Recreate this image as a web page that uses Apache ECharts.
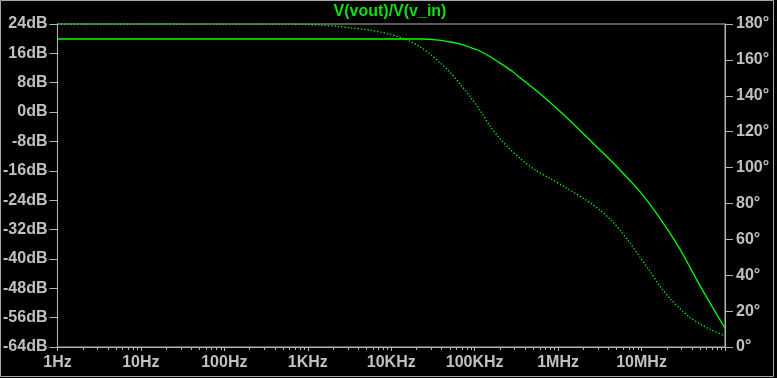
<!DOCTYPE html>
<html>
<head>
<meta charset="utf-8">
<script src="https://cdn.jsdelivr.net/npm/echarts@6/dist/echarts.min.js"></script>
<style>
html,body{margin:0;padding:0;background:#000;}
#chart{width:777px;height:378px;}
</style>
</head>
<body>
<div id="chart"></div>
<script>
// ---- data ----
var titleText = 'V(vout)/V(v_in)';
var xTickLabels = ['1Hz','10Hz','100Hz','1KHz','10KHz','100KHz','1MHz','10MHz',''];

// magnitude (solid, left axis, dB)
var magFreq = [1, 1e3, 1e4, 23.4e3, 36.6e3, 53.4e3, 67.1e3, 83.7e3, 106.4e3, 126.6e3, 153.5e3, 186.2e3, 225.8e3, 281.4e3, 351e3, 609e3, 1.057e6, 1.834e6, 3.18e6, 5.52e6, 9.58e6, 16.63e6, 28.86e6, 50.08e6, 100e6];
var magDb = [19.92, 19.92, 19.92, 19.91, 19.63, 19.03, 18.49, 17.80, 16.99, 16.17, 15.07, 13.85, 12.62, 11.12, 9.34, 4.98, 0.14, -4.99, -10.31, -15.77, -21.69, -28.95, -37.33, -47.29, -58.89];

// phase (dotted, right axis, degrees)
var phFreq = [1, 471, 1.417e3, 3.24e3, 5.62e3, 7.41e3, 9.75e3, 12.85e3, 16.93e3, 22.3e3, 29.4e3, 38.7e3, 51.0e3, 67.1e3, 88.5e3, 116.5e3, 153.5e3, 202.2e3, 266.4e3, 351e3, 530.6e3, 802e3, 1.282e6, 2.105e6, 3.18e6, 4.19e6, 5.52e6, 7.27e6, 9.58e6, 12.62e6, 16.63e6, 21.9e6, 28.86e6, 38.0e6, 50.1e6, 66.0e6, 100e6];
var phDeg = [180, 179.94, 179.44, 177.93, 176.54, 175.53, 174.19, 172.52, 170.29, 167.16, 163.25, 158.23, 152.98, 146.50, 139.41, 131.76, 122.94, 115.96, 110.10, 105.07, 98.65, 93.91, 88.44, 82.18, 76.32, 71.30, 65.15, 57.90, 50.08, 42.26, 33.89, 27.02, 21.44, 16.47, 12.95, 9.88, 6.14];

// minor tick positions on the log axis (2..9 per decade)
var minorTickFreqs = [];
for (var d = 0; d < 8; d++) {
  for (var k = 2; k <= 9; k++) minorTickFreqs.push(k * Math.pow(10, d));
}

// ---- chart ----
var GREEN = '#00ff00';
var GREY = '#b4b4b4';
var LABEL = '#c0c0c0';
var FONT = '"Liberation Sans", Arial, sans-serif';

var chart = echarts.init(document.getElementById('chart'), null, {renderer: 'canvas'});

function zip(a, b) { return a.map(function (v, i) { return [v, b[i]]; }); }

var option = {
  animation: false,
  backgroundColor: '#000',
  grid: {
    left: 56, right: 52, top: 24, bottom: 31,
    show: true, borderColor: GREY, borderWidth: 1, backgroundColor: '#000'
  },
  graphic: [
    {
      type: 'rect', silent: true, z: 100,
      shape: {x: 0.5, y: 0.5, width: 773, height: 376},
      style: {fill: null, stroke: '#a8a8a8', lineWidth: 1}
    },
    {
      type: 'text', silent: true, z: 100,
      x: 390, y: 12,
      style: {
        text: titleText, fill: '#11dd11',
        font: 'bold 16px ' + FONT,
        textAlign: 'center', textVerticalAlign: 'middle'
      }
    }
  ],
  xAxis: {
    type: 'log', logBase: 10, min: 1, max: 1e8, splitNumber: 8,
    axisLine: {show: true, onZero: false, lineStyle: {color: GREY, width: 1}},
    axisTick: {show: true, inside: false, length: 4, lineStyle: {color: GREY}},
    splitLine: {show: false},
    minorTick: {show: false},
    axisLabel: {
      color: LABEL, fontSize: 16, fontWeight: 'bold', fontFamily: FONT, margin: 8,
      formatter: function (v) {
        var i = Math.round(Math.log10(v));
        return xTickLabels[i] !== undefined ? xTickLabels[i] : '';
      }
    }
  },
  yAxis: [
    {
      type: 'value', position: 'left', min: -64, max: 24, interval: 8,
      axisLine: {show: true, lineStyle: {color: GREY}},
      axisTick: {show: true, length: 8, lineStyle: {color: GREY}},
      splitLine: {show: false},
      axisLabel: {
        color: LABEL, fontSize: 16, fontWeight: 'bold', fontFamily: FONT, margin: 10,
        formatter: function (v) { return v + 'dB'; }
      }
    },
    {
      type: 'value', position: 'right', min: 0, max: 180, interval: 20,
      axisLine: {show: true, lineStyle: {color: GREY}},
      axisTick: {show: true, length: 8, lineStyle: {color: GREY}},
      splitLine: {show: false},
      axisLabel: {
        color: LABEL, fontSize: 16, fontWeight: 'bold', fontFamily: FONT, margin: 11,
        formatter: function (v) { return v + '°'; }
      }
    }
  ],
  series: [
    {
      name: 'phase', type: 'line', yAxisIndex: 1, smooth: 0.3,
      data: zip(phFreq, phDeg), showSymbol: false, symbol: 'none',
      lineStyle: {color: GREEN, width: 1.3, type: [1.3, 2]},
      z: 3
    },
    {
      name: 'magnitude', type: 'line', yAxisIndex: 0, smooth: 0.3,
      data: zip(magFreq, magDb), showSymbol: false, symbol: 'none',
      lineStyle: {color: GREEN, width: 1.3},
      z: 4
    },
    {
      name: 'minorTicks', type: 'custom', yAxisIndex: 0, silent: true, clip: false, z: 5,
      data: minorTickFreqs.map(function (f) { return [f, -64]; }),
      renderItem: function (params, api) {
        var p = api.coord([api.value(0), api.value(1)]);
        var x = Math.round(p[0]) + 0.5;
        var y = Math.round(p[1]);
        return {
          type: 'line',
          shape: {x1: x, y1: y, x2: x, y2: y + 3},
          style: {stroke: GREY, lineWidth: 1}
        };
      }
    }
  ]
};
chart.setOption(option);
</script>
</body>
</html>
